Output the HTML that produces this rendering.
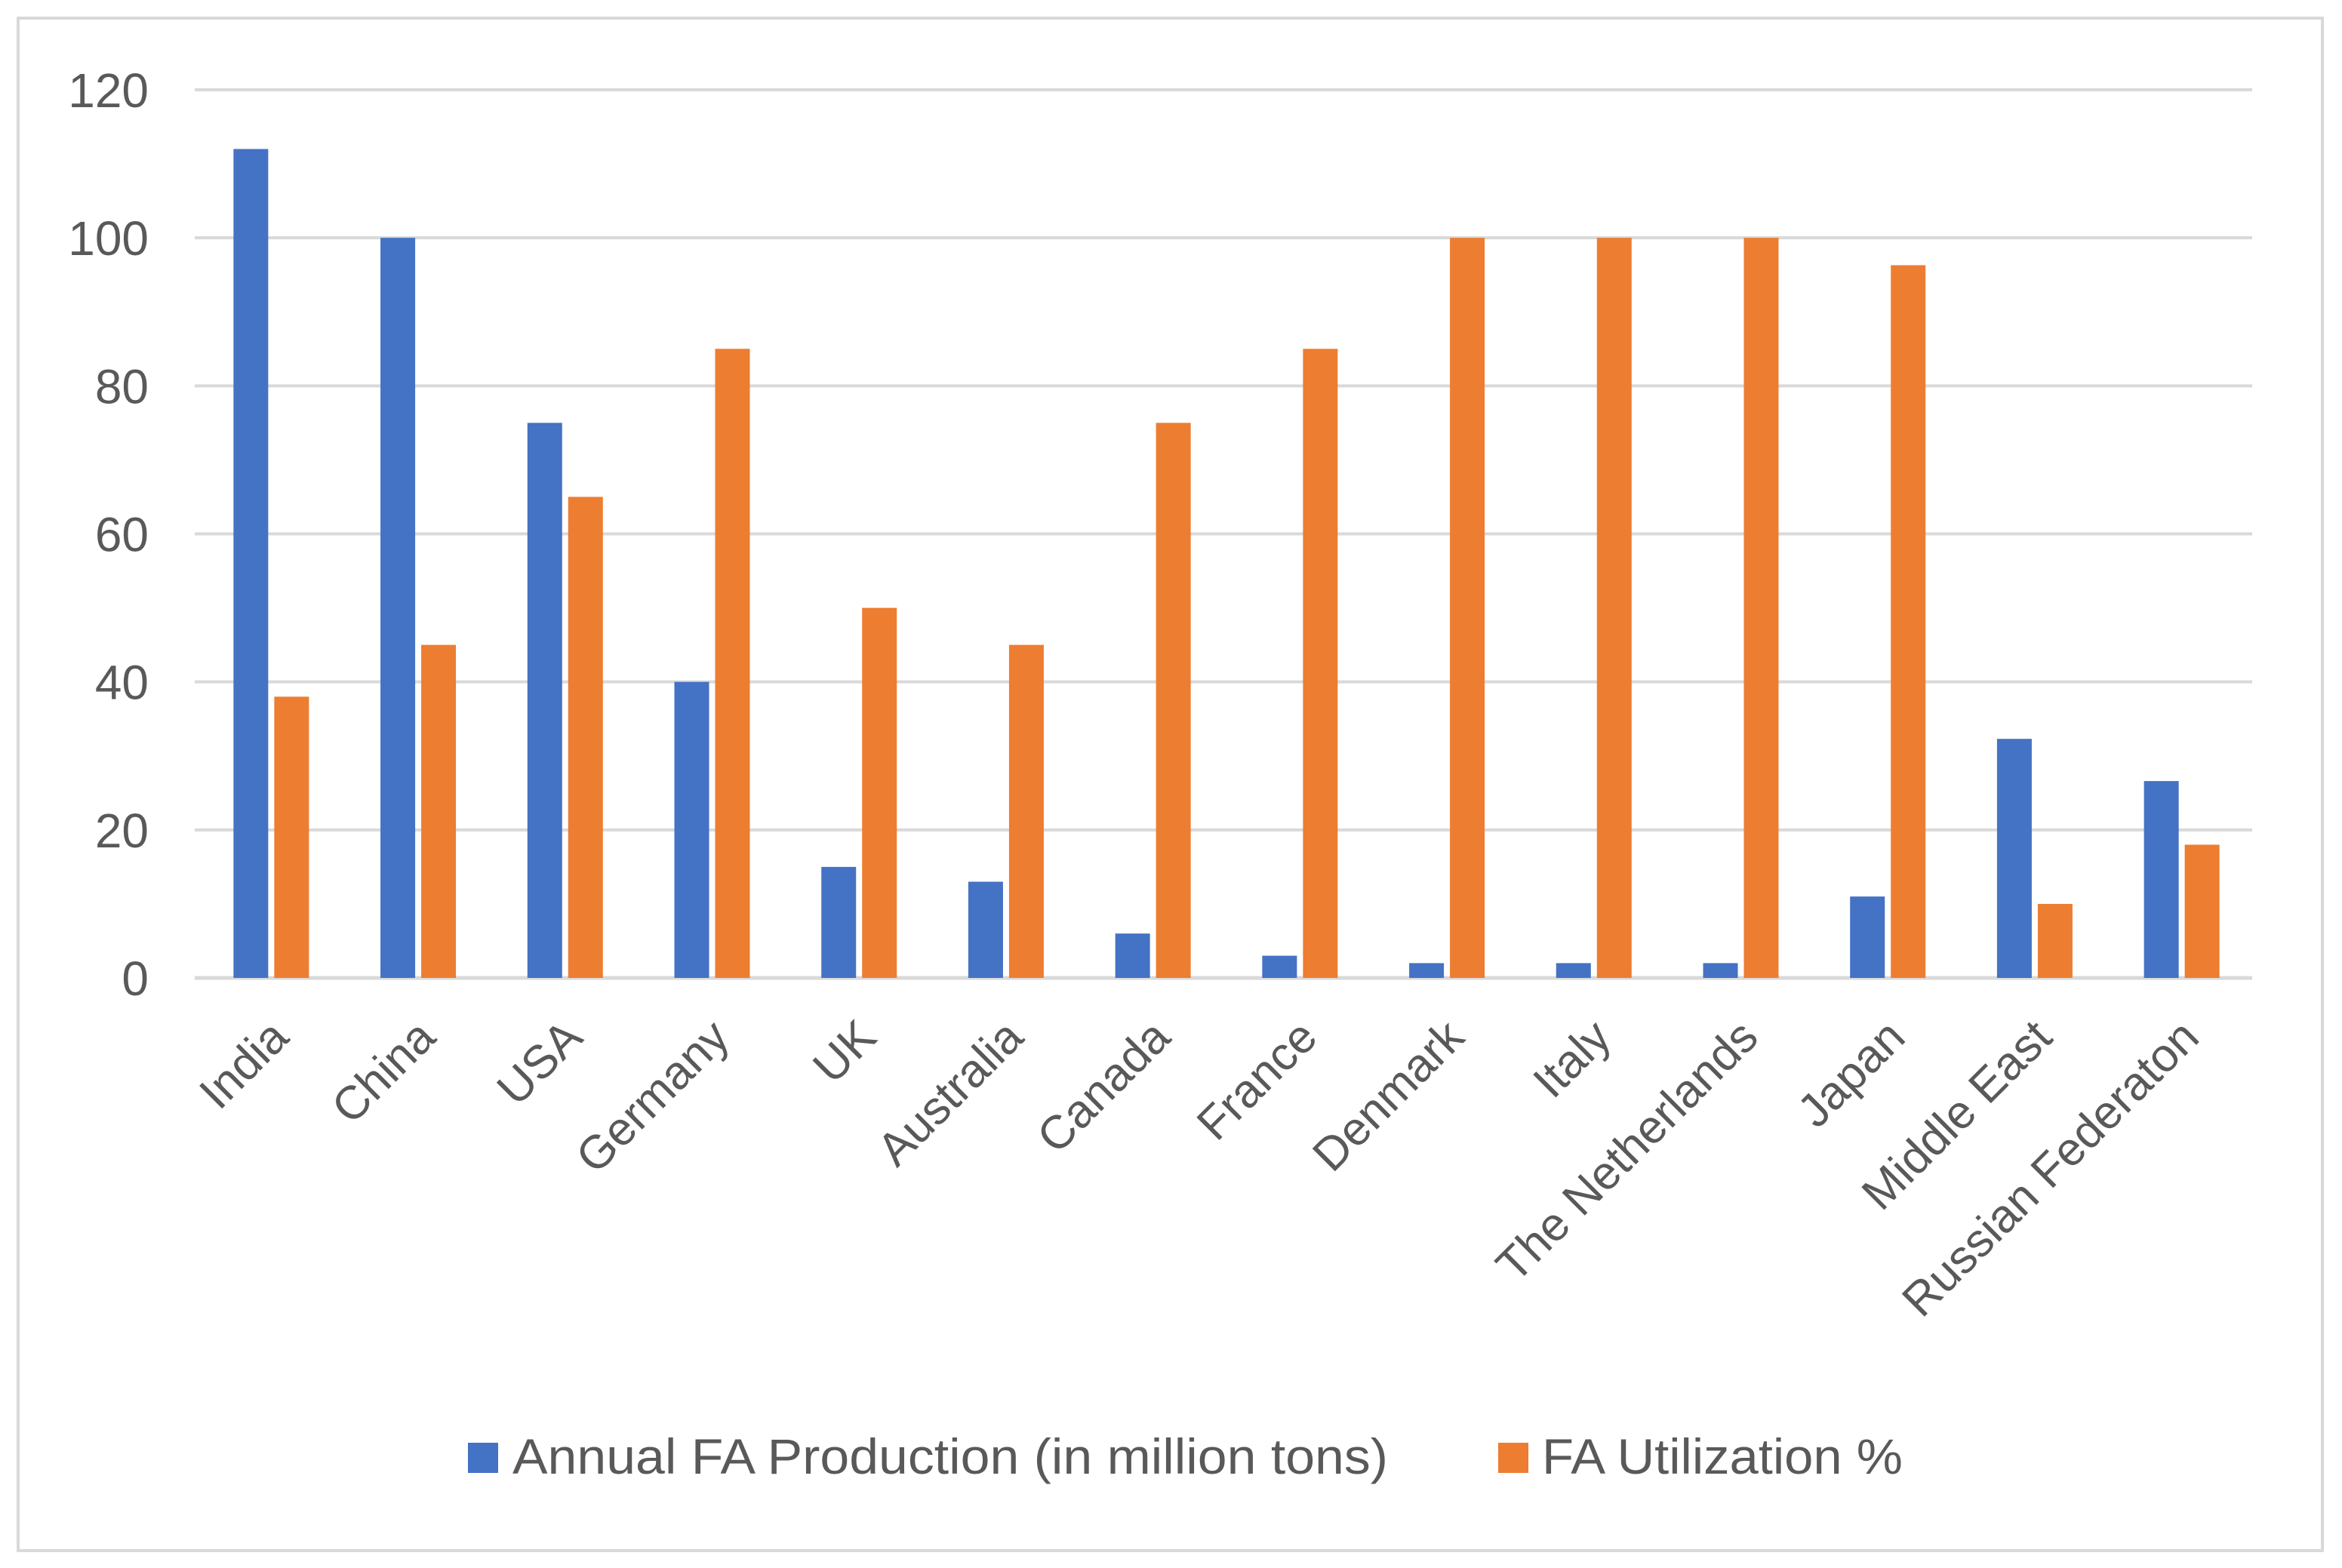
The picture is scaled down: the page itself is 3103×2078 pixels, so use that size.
<!DOCTYPE html>
<html><head><meta charset="utf-8"><style>
html,body{margin:0;padding:0;background:#fff;}
svg{display:block;font-family:"Liberation Sans",sans-serif;}
</style></head><body>
<svg id="chart" width="3103" height="2078" viewBox="0 0 3103 2078">
<rect x="24" y="24" width="3053" height="2031" fill="#fff" stroke="#d9d9d9" stroke-width="4"/>
<g id="grid"></g><g id="bars"></g><g id="labels"></g>
<g>
<rect x="620" y="1912" width="40" height="40" fill="#4472c4"/>
<text x="679" y="1953" font-size="66" fill="#595959" textLength="1160" lengthAdjust="spacingAndGlyphs">Annual FA Production (in million tons)</text>
<rect x="1985" y="1912" width="40" height="40" fill="#ed7d31"/>
<text x="2043" y="1953" font-size="66" fill="#595959" textLength="478" lengthAdjust="spacingAndGlyphs">FA Utilization %</text>
</g>
</svg>
<script>
const categories=["India","China","USA","Germany","UK","Australia","Canada","France","Denmark","Italy","The Netherlands","Japan","Middle East","Russian Federaton"];
const production=[112,100,75,40,15,13,6,3,2,2,2,11,32.3,26.6];
const utilization=[38,45,65,85,50,45,75,85,100,100,100,96.3,10,18];
const yTicks=[0,20,40,60,80,100,120];
const NS="http://www.w3.org/2000/svg";
const X0=258,X1=2984,Y0=1296,Y1=119,YMAX=120;
const bw=(X1-X0)/categories.length;
function y(v){return Y0-(v/YMAX)*(Y0-Y1);}
function xc(i){return X0+bw*(i+0.5);}
function mk(t,a,p){const e=document.createElementNS(NS,t);for(const k in a)e.setAttribute(k,a[k]);p.appendChild(e);return e;}
const grid=document.getElementById('grid'),bars=document.getElementById('bars'),labels=document.getElementById('labels');
yTicks.forEach(t=>{
 const l=mk('line',{x1:X0,x2:X1,y1:y(t),y2:y(t),stroke:'#d9d9d9','stroke-width':4},grid);
 
 
 const tx=mk('text',{x:197,y:y(t)+23,'font-size':64,fill:'#595959','text-anchor':'end'},labels);
 tx.textContent=t;
 
 
});
const W=46,G=8;
categories.forEach((c,i)=>{
 const cx=xc(i)+4;
 const b1=mk('rect',{x:cx-G/2-W,y:y(production[i]),width:W,height:Y0-y(production[i]),fill:'#4472c4'},bars);
 
 
 const b2=mk('rect',{x:cx+G/2,y:y(utilization[i]),width:W,height:Y0-y(utilization[i]),fill:'#ed7d31'},bars);
 
 
 const tx=mk('text',{x:0,y:0,'font-size':62,fill:'#595959','text-anchor':'end',transform:`translate(${cx+26},${1378}) rotate(-45)`},labels);
 tx.textContent=c;
 
 
});
const ax=mk('line',{x1:X0,x2:X1,y1:Y0,y2:Y0,stroke:'#d9d9d9','stroke-width':5},grid);


</script>
</body></html>
